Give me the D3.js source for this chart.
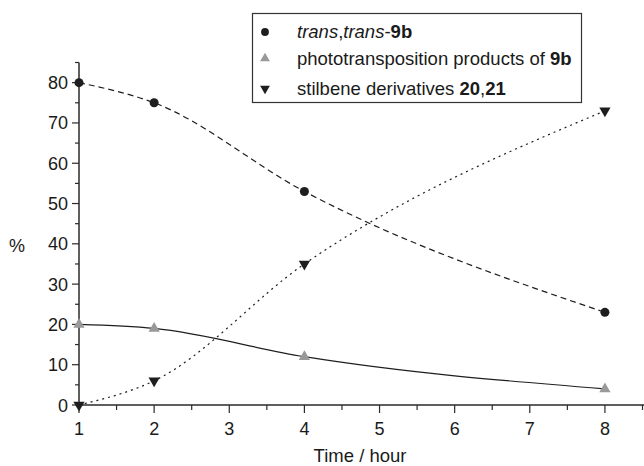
<!DOCTYPE html>
<html>
<head>
<meta charset="utf-8">
<script src="https://cdn.jsdelivr.net/npm/d3@7"></script>
<style>
  body { margin: 0; background: #fff; }
  text { font-family: "Liberation Sans", Arial, sans-serif; fill: #1a1a1a; }
</style>
</head>
<body>
<div id="main"></div>
<script>
// values
const hours = [1, 2, 4, 8];
const transTrans9b = [80, 75, 53, 23];
const phototransProducts = [20, 19, 12, 4];
const stilbeneDerivs = [0, 6, 35, 73];
const xTicks = [1, 2, 3, 4, 5, 6, 7, 8];
const yTicks = [0, 10, 20, 30, 40, 50, 60, 70, 80];

const ctx = { width: 644, height: 466 };

const svg = d3.select("#main").append("svg")
  .attr("width", ctx.width)
  .attr("height", ctx.height);

const x = d3.scaleLinear().domain([1, 8.52]).range([79, 644]);
const y = d3.scaleLinear().domain([0, 85]).range([405, 62.5]);

const axisColor = "#2a2a2a";

// x axis
const xAxis = svg.append("g").attr("transform", `translate(0,${y(0)})`);
xAxis.append("line")
  .attr("x1", x(1)).attr("x2", x(8.52))
  .attr("stroke", axisColor).attr("stroke-width", 1.5);
xAxis.selectAll(".minor").data(d3.range(1.5, 8.6, 1)).join("line")
  .attr("x1", d => x(d)).attr("x2", d => x(d))
  .attr("y1", 0).attr("y2", 5)
  .attr("stroke", axisColor).attr("stroke-width", 1.2);
xAxis.selectAll(".major").data(xTicks).join("line")
  .attr("x1", d => x(d)).attr("x2", d => x(d))
  .attr("y1", 0).attr("y2", 8)
  .attr("stroke", axisColor).attr("stroke-width", 1.2);
xAxis.selectAll("text").data(xTicks).join("text")
  .attr("x", d => x(d)).attr("y", 30)
  .attr("text-anchor", "middle")
  .attr("font-size", 18)
  .text(d => d);

// y axis
const yAxis = svg.append("g").attr("transform", `translate(${x(1)},0)`);
yAxis.append("line")
  .attr("y1", y(0)).attr("y2", y(85))
  .attr("stroke", axisColor).attr("stroke-width", 1.5);
yAxis.selectAll(".minor").data(d3.range(5, 86, 10)).join("line")
  .attr("y1", d => y(d)).attr("y2", d => y(d))
  .attr("x1", 0).attr("x2", -4)
  .attr("stroke", axisColor).attr("stroke-width", 1.2);
yAxis.selectAll(".major").data(yTicks).join("line")
  .attr("y1", d => y(d)).attr("y2", d => y(d))
  .attr("x1", 0).attr("x2", -7)
  .attr("stroke", axisColor).attr("stroke-width", 1.2);
yAxis.selectAll("text").data(yTicks).join("text")
  .attr("x", -11).attr("y", d => y(d) + 6.5)
  .attr("text-anchor", "end")
  .attr("font-size", 18)
  .text(d => d);

svg.append("text").attr("x", 17).attr("y", 252)
  .attr("text-anchor", "middle").attr("font-size", 18).text("%");
svg.append("text").attr("x", 360).attr("y", 462)
  .attr("text-anchor", "middle").attr("font-size", 18.5).text("Time / hour");

// curves
const line = d3.line().x(d => x(d[0])).y(d => y(d[1])).curve(d3.curveMonotoneX);
const series = [
  { vals: transTrans9b, dash: "6,4", sym: d3.symbolCircle, color: "#1e1e1e", size: 64, rot: 0 },
  { vals: phototransProducts, dash: null, sym: d3.symbolTriangle, color: "#999", size: 55, rot: 0 },
  { vals: stilbeneDerivs, dash: "2,4", sym: d3.symbolTriangle, color: "#1e1e1e", size: 55, rot: 180 }
];

series.forEach(s => {
  const pts = hours.map((h, i) => [h, s.vals[i]]);
  svg.append("path")
    .attr("d", line(pts))
    .attr("fill", "none")
    .attr("stroke", "#1e1e1e")
    .attr("stroke-width", 1.2)
    .attr("stroke-dasharray", s.dash);
});

series.forEach(s => {
  const pts = hours.map((h, i) => [h, s.vals[i]]);
  svg.append("g").selectAll("path").data(pts).join("path")
    .attr("d", d3.symbol().type(s.sym).size(s.size))
    .attr("transform", d => `translate(${x(d[0])},${y(d[1])}) rotate(${s.rot})`)
    .attr("fill", s.color);
});

// legend
const legend = svg.append("g");
legend.append("rect")
  .attr("x", 252.5).attr("y", 13.5).attr("width", 329).attr("height", 89)
  .attr("fill", "#fff").attr("stroke", "#333").attr("stroke-width", 1.2);

const legRows = [
  [{ t: "trans", s: "italic" }, { t: "," }, { t: "trans", s: "italic" }, { t: "-" }, { t: "9b", w: "bold" }],
  [{ t: "phototransposition products of " }, { t: "9b", w: "bold" }],
  [{ t: "stilbene derivatives " }, { t: "20", w: "bold" }, { t: "," }, { t: "21", w: "bold" }]
];
const legY = [32, 58.5, 88.5];

legRows.forEach((parts, i) => {
  const s = series[i];
  legend.append("path")
    .attr("d", d3.symbol().type(s.sym).size(s.size * 0.75))
    .attr("transform", `translate(265,${legY[i]}) rotate(${s.rot})`)
    .attr("fill", s.color);
  const t = legend.append("text").attr("x", 297).attr("y", legY[i] + 6).attr("font-size", 18.5);
  parts.forEach(p => {
    t.append("tspan")
      .attr("font-style", p.s || "normal")
      .attr("font-weight", p.w || "normal")
      .text(p.t);
  });
});
</script>
</body>
</html>
